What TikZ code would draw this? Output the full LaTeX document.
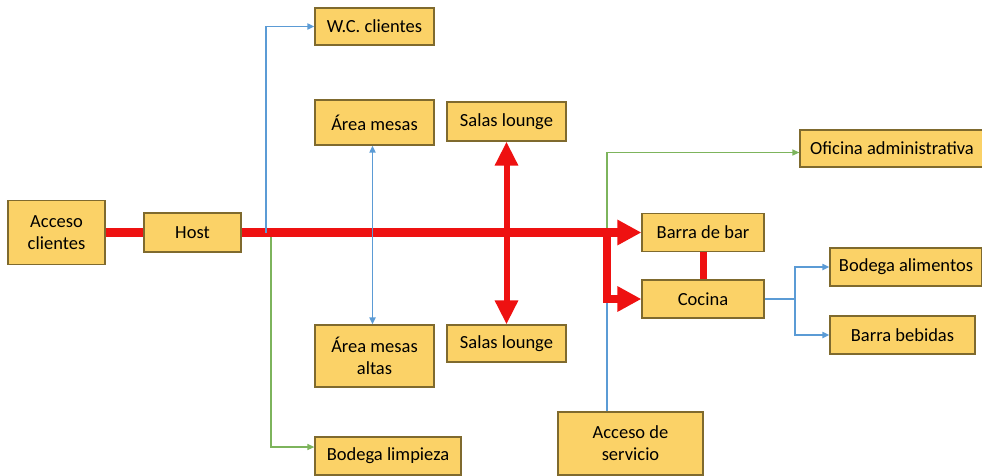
\documentclass[tikz,border=0pt]{standalone}
\usepackage{fontspec}
\setmainfont{Carlito}
\usetikzlibrary{arrows.meta}
\definecolor{boxfill}{HTML}{FBD267}
\definecolor{boxline}{HTML}{7F6A2E}
\definecolor{flowred}{HTML}{EE1111}
\definecolor{flowblue}{HTML}{5B9BD5}
\definecolor{flowgreen}{HTML}{7DB45C}
\begin{document}
\begin{tikzpicture}[
    x=1pt, y=-1pt,
    every node/.style={font=\fontsize{18.5}{22}\selectfont},
    area/.style={draw=boxline, line width=1.2pt, fill=boxfill, inner sep=0pt, align=center},
    bigred/.style={draw=flowred, line width=8.5pt, line join=miter},
    redtip/.style={-{Triangle[length=24pt, width=24pt]}, bigred},
    bluelink/.style={draw=flowblue, line width=1.8pt},
    bluetip/.style={-{Triangle[length=7pt, width=6pt]}, bluelink},
    greentip/.style={-{Triangle[length=7pt, width=6pt]}, draw=flowgreen, line width=1.2pt},
]
\useasboundingbox (0,0) rectangle (982,475);
\node[area, minimum width=97pt, minimum height=64pt] (accli) at (56.5, 232.5) {Acceso\\clientes};
\node[area, minimum width=97pt, minimum height=39pt] (host) at (192.5, 232.5) {Host};
\node[area, minimum width=119pt, minimum height=37pt] (wc) at (374.5, 26.5) {W.C. clientes};
\node[area, minimum width=119pt, minimum height=45pt] (mesas) at (374.5, 122.5) {Área mesas};
\node[area, minimum width=119pt, minimum height=39pt] (salasup) at (506.5, 121.5) {Salas lounge};
\node[area, minimum width=119pt, minimum height=62pt] (mesasalt) at (374.5, 356) {Área mesas\\altas};
\node[area, minimum width=119pt, minimum height=37pt] (salasdn) at (506.5, 343.5) {Salas lounge};
\node[area, minimum width=146pt, minimum height=38pt] (limp) at (388, 456) {Bodega limpieza};
\node[area, minimum width=184pt, minimum height=37pt] (ofi) at (892, 148.5) {Oficina administrativa};
\node[area, minimum width=122pt, minimum height=38pt] (barra) at (703, 232.5) {Barra de bar};
\node[area, minimum width=122pt, minimum height=38pt] (cocina) at (703, 299) {Cocina};
\node[area, minimum width=152pt, minimum height=38pt] (bodali) at (906, 267) {Bodega alimentos};
\node[area, minimum width=145pt, minimum height=38pt] (bebidas) at (902.5, 335) {Barra bebidas};
\node[area, minimum width=145pt, minimum height=63pt] (accser) at (630.5, 443.5) {Acceso de\\servicio};
\coordinate (jwc) at (266, 232.5);
\coordinate (jlimp) at (271, 232.5);
\coordinate (jcocina) at (607, 232.5);
\coordinate (jserv) at (607, 299);
\coordinate (fork) at (795, 299);
\draw[greentip] (jlimp) |- ([yshift=9pt]limp.west);
\draw[bluelink] ([xshift=-23.5pt]accser.north) -- (jserv);
\draw[greentip] (jserv) |- ([yshift=-4pt]ofi.west);
\draw[bigred] (accli) -- (host);
\draw[redtip] (host) -- (barra);
\draw[redtip] (jcocina) |- (cocina.west);
\draw[{Triangle[length=24pt, width=22pt]}-{Triangle[length=24pt, width=22pt]}, draw=flowred, line width=6pt] (salasup) -- (salasdn);
\draw[draw=flowred, line width=7pt] (barra) -- (cocina);
\draw[bluetip] (jwc) |- (wc.west);
\draw[{Triangle[length=7pt, width=6pt]}-{Triangle[length=7pt, width=6pt]}, bluelink] ([xshift=-2pt]mesas.south) -- ([xshift=-2pt]mesasalt.north);
\draw[bluelink] (cocina) -- (fork);
\draw[bluetip] (fork) |- (bodali.west);
\draw[bluetip] (fork) |- (bebidas.west);
\end{tikzpicture}
\end{document}
